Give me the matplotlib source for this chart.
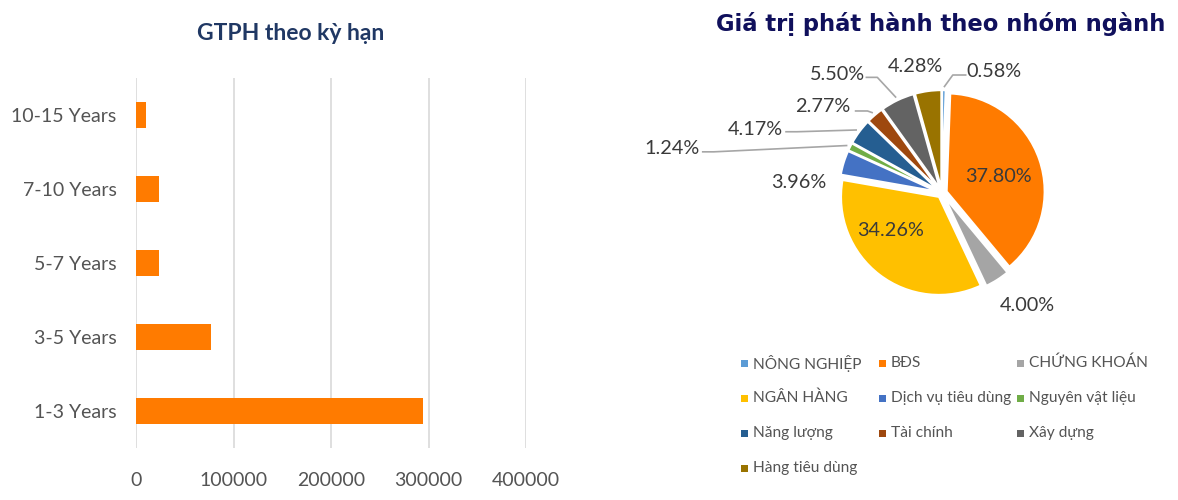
import numpy as np
import matplotlib
matplotlib.use("Agg")
import matplotlib.pyplot as plt
from matplotlib.patches import Rectangle

plt.rcParams['font.family'] = ['Lato', 'Open Sans', 'DejaVu Sans']

# ---------------- data ----------------
tenor_labels = ["1-3 Years", "3-5 Years", "5-7 Years", "7-10 Years", "10-15 Years"]
tenor_values = [294700, 76800, 23400, 24100, 10600]
x_ticks = [0, 100000, 200000, 300000, 400000]

sector_labels = ["NÔNG NGHIỆP", "BĐS", "CHỨNG KHOÁN", "NGÂN HÀNG",
                 "Dịch vụ tiêu dùng", "Nguyên vật liệu", "Năng lượng",
                 "Tài chính", "Xây dựng", "Hàng tiêu dùng"]
sector_shares = [0.58, 37.80, 4.00, 34.26, 3.96, 1.24, 4.17, 2.77, 5.50, 4.28]

left_title = "GTPH theo kỳ hạn"
right_title = "Giá trị phát hành theo nhóm ngành"

# ---------------- styles ----------------
bar_color = "#FF7B00"
sector_colors = ["#5B9BD5", "#FF7B00", "#A5A5A5", "#FFC000", "#4472C4",
                 "#70AD47", "#255E91", "#9E480E", "#636363", "#997300"]
title_color = "#203864"
title2_color = "#10105C"
text_gray = "#545454"
label_dark = "#3A3A3A"
grid_color = "#D9D9D9"

# pie label layout (data units of the pie axes, radius = 1)
label_pos = [(0.53, 1.235), (0.571, 0.173), (0.867, -1.143), (-0.520, -0.378),
             (-1.459, 0.112), (-2.755, 0.449), (-1.908, 0.653), (-1.214, 0.878),
             (-1.071, 1.214), (-0.276, 1.286)]
leader_anchor = [(0.25, 1.204), None, None, None, None,
                 (-2.45, 0.42), (-1.60, 0.625), (-0.89, 0.837),
                 (-0.78, 1.18), None]
leader_elbow_dx = [-0.14, 0, 0, 0, 0, 0.12, 0.12, 0.13, 0.12, 0]

W, H = 1178, 500
fig = plt.figure(figsize=(W / 100, H / 100), dpi=100)

# ---------------- bar chart ----------------
ax1 = fig.add_axes([136 / W, 52 / H, 390 / W, 370 / H])
ypos = np.arange(len(tenor_labels))
ax1.barh(ypos, tenor_values, height=0.35, color=bar_color, zorder=3)
ax1.set_xlim(0, 400000)
ax1.set_ylim(-0.5, len(tenor_labels) - 0.5)
ax1.set_xticks(x_ticks)
ax1.set_xticklabels([str(v) for v in x_ticks])
ax1.set_yticks(ypos)
ax1.set_yticklabels(tenor_labels)
ax1.grid(axis='x', color=grid_color, linewidth=1.2, zorder=0)
for s in ax1.spines.values():
    s.set_visible(False)
ax1.tick_params(axis='both', length=0, labelsize=14, colors=text_gray)
ax1.tick_params(axis='x', pad=17)
ax1.tick_params(axis='y', pad=14)
fig.text(291 / W, 1 - 33 / H, left_title, ha='center', va='center',
         fontsize=16.5, fontweight='bold', color=title_color)

# ---------------- pie chart ----------------
R = 98.0
size = 300
ax2 = fig.add_axes([(942 - size / 2) / W, (H - 193 - size / 2) / H, size / W, size / H])
wedges, _ = ax2.pie(sector_shares, colors=sector_colors, startangle=90,
                    counterclock=False, explode=[0.05] * len(sector_shares),
                    wedgeprops=dict(edgecolor='white', linewidth=1.5))
lim = size / 2 / R
ax2.set_xlim(-lim, lim)
ax2.set_ylim(-lim, lim)
ax2.set_aspect('equal')
ax2.axis('off')

total = sum(sector_shares)
cum = np.cumsum([0] + sector_shares)
for i, v in enumerate(sector_shares):
    mid = (cum[i] + v / 2) / total * 360.0  # clockwise from top
    tx, ty = label_pos[i]
    ax2.text(tx, ty, f"{v:.2f}%", ha='center', va='center', fontsize=14.3,
             color=label_dark, clip_on=False)
    if leader_anchor[i] is not None:
        r0 = 1.08
        sx, sy = r0 * np.sin(np.radians(mid)), r0 * np.cos(np.radians(mid))
        ax_, ay_ = leader_anchor[i]
        ex = ax_ + leader_elbow_dx[i]
        ax2.plot([sx, ex, ax_], [sy, ay_, ay_], color="#A6A6A6", lw=1.2,
                 clip_on=False, solid_capstyle='butt')

fig.text(941 / W, 1 - 24 / H, right_title, ha='center', va='center',
         fontsize=16.3, fontweight='bold', color=title2_color,
         family=['DejaVu Sans'])

# ---------------- legend (row-major, 3 columns) ----------------
col_x = [744, 882, 1020]
row_y = [363, 398, 433, 468]
for i, lab in enumerate(sector_labels):
    r, c = divmod(i, 3)
    mx, my = col_x[c], row_y[r]
    fig.patches.append(Rectangle(((mx - 3.5) / W, (H - my - 3.5) / H), 7 / W, 7 / H,
                                 transform=fig.transFigure, facecolor=sector_colors[i],
                                 edgecolor='none'))
    fig.text((mx + 9) / W, 1 - my / H, lab, ha='left', va='center',
             fontsize=11.2, color=text_gray)

fig.savefig("out.png", dpi=100, facecolor='white')
